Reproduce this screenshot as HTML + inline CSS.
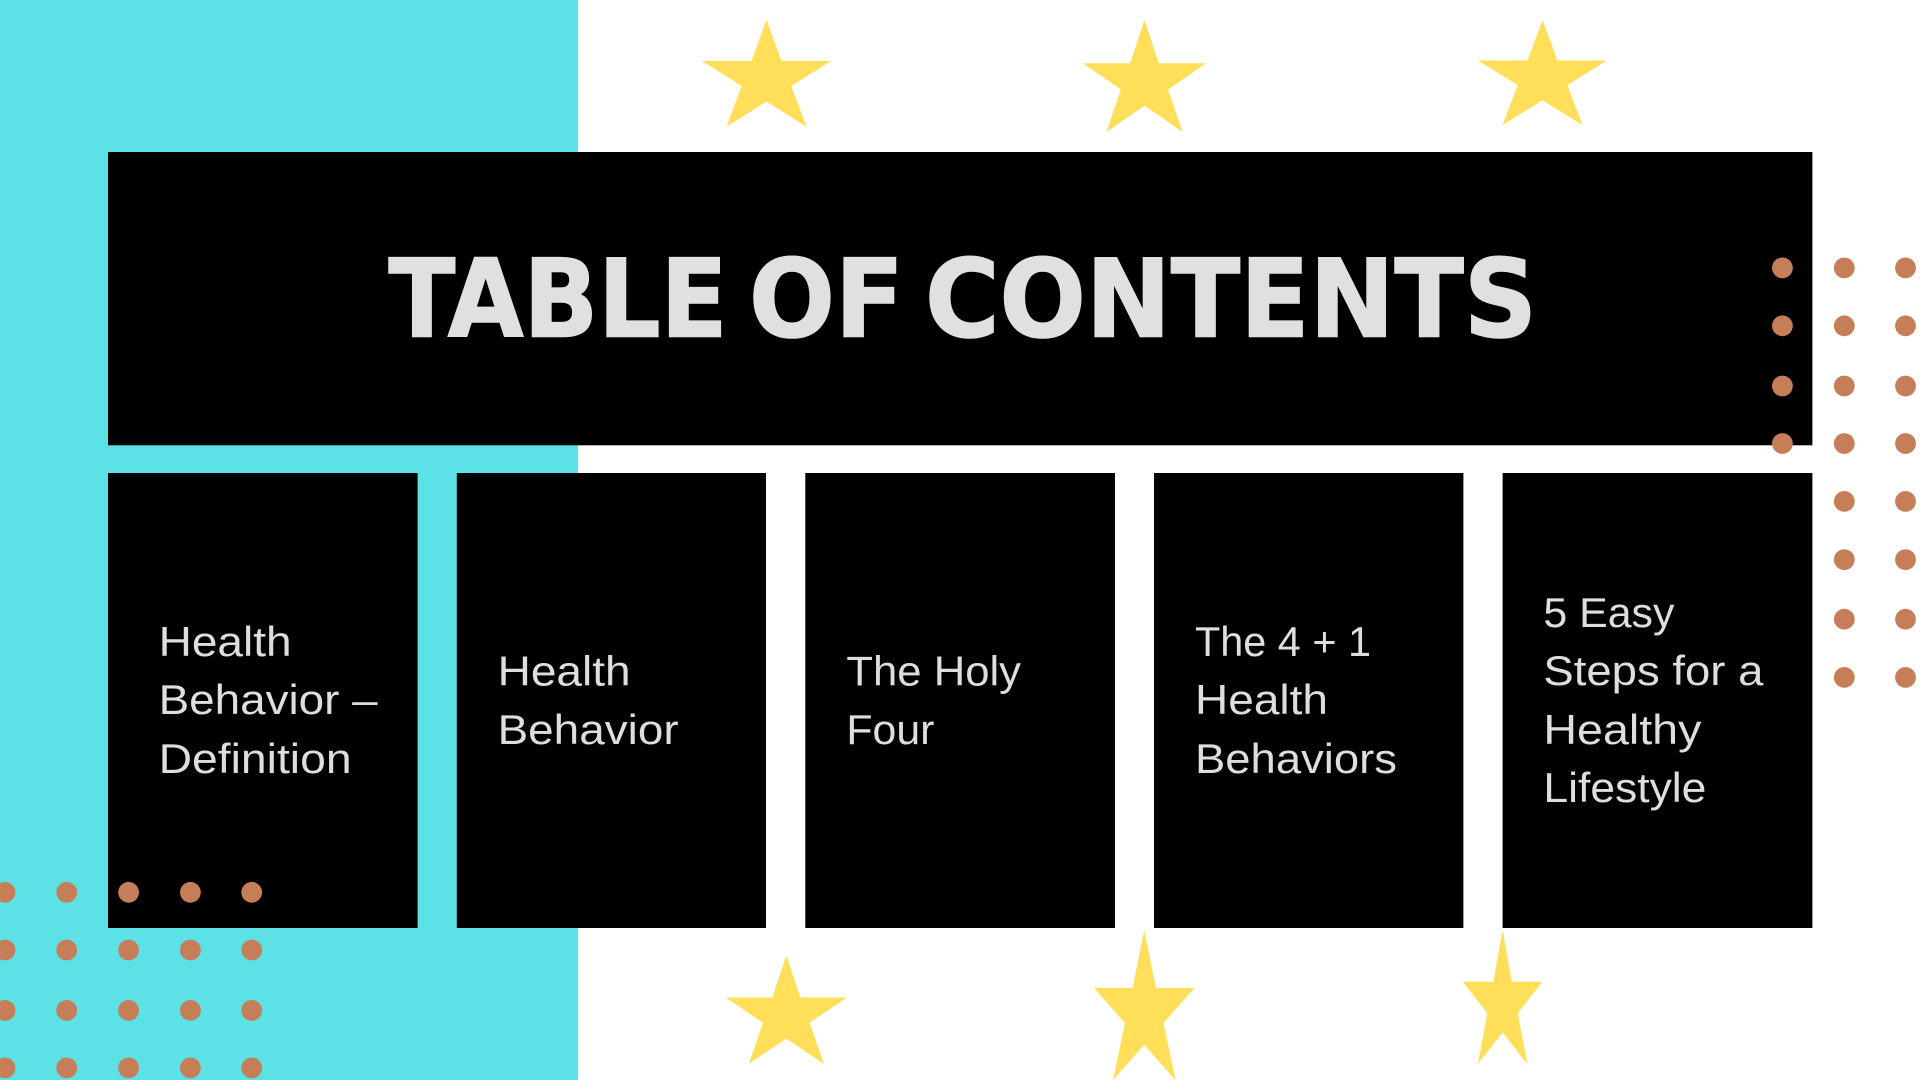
<!DOCTYPE html>
<html lang="en">
<head>
<meta charset="utf-8">
<title>Table of Contents</title>
<style>
html,body{margin:0;padding:0;background:#fff;width:1920px;height:1080px;overflow:hidden}
svg{display:block}
.title{font-family:"DejaVu Sans",sans-serif;font-weight:700;font-size:108px;fill:#e0e0e0;stroke:#e0e0e0;stroke-width:1.6px}
.item{font-family:"Liberation Sans",sans-serif;font-size:42px;fill:#dedede}
.dot{fill:#c67e58}
.star{fill:#ffde59}
</style>
</head>
<body>
<svg width="1920" height="1080" viewBox="0 0 1920 1080" xmlns="http://www.w3.org/2000/svg">
<rect x="0" y="0" width="1920" height="1080" fill="#ffffff"/>
<rect x="0" y="0" width="578" height="1080" fill="#5ce1e6"/>

<g>
<polygon class="star" transform="translate(702 19.6) scale(129 107.1)" points="0.5,0 0.616,0.386 1,0.386 0.692,0.62 0.81,1 0.5,0.765 0.19,1 0.308,0.62 0,0.386 0.384,0.386"/>
<polygon class="star" transform="translate(1083 20) scale(123 112)" points="0.5,0 0.616,0.386 1,0.386 0.692,0.62 0.81,1 0.5,0.765 0.19,1 0.308,0.62 0,0.386 0.384,0.386"/>
<polygon class="star" transform="translate(1478 20) scale(129 105)" points="0.5,0 0.616,0.386 1,0.386 0.692,0.62 0.81,1 0.5,0.765 0.19,1 0.308,0.62 0,0.386 0.384,0.386"/>
</g>

<g>
<polygon class="star" transform="translate(725.7 955.6) scale(121.3 108.4)" points="0.5,0 0.616,0.386 1,0.386 0.692,0.62 0.81,1 0.5,0.765 0.19,1 0.308,0.62 0,0.386 0.384,0.386"/>
<polygon class="star" transform="translate(1094 930) scale(100.5 150)" points="0.5,0 0.616,0.386 1,0.386 0.692,0.62 0.81,1 0.5,0.765 0.19,1 0.308,0.62 0,0.386 0.384,0.386"/>
<polygon class="star" transform="translate(1462.8 930) scale(79.6 134)" points="0.5,0 0.616,0.386 1,0.386 0.692,0.62 0.81,1 0.5,0.765 0.19,1 0.308,0.62 0,0.386 0.384,0.386"/>
</g>

<g>
<rect x="108" y="152" width="1704.4" height="293.3" fill="#000000"/>
<text class="title" x="388.5" y="336.4" textLength="339" lengthAdjust="spacingAndGlyphs">TABLE</text>
<text class="title" x="749" y="336.4" textLength="155" lengthAdjust="spacingAndGlyphs">OF</text>
<text class="title" x="925" y="336.4" textLength="612" lengthAdjust="spacingAndGlyphs">CONTENTS</text>
</g>

<g>
<rect x="108" y="473" width="309.6" height="455" fill="#000000"/>
<text class="item" x="158.6" y="656.2" textLength="133" lengthAdjust="spacingAndGlyphs">Health</text>
<text class="item" x="158.6" y="714" textLength="219" lengthAdjust="spacingAndGlyphs">Behavior –</text>
<text class="item" x="158.6" y="773.2" textLength="193" lengthAdjust="spacingAndGlyphs">Definition</text>
</g>

<g>
<rect x="456.8" y="473" width="309.2" height="455" fill="#000000"/>
<text class="item" x="497.6" y="685.4" textLength="133" lengthAdjust="spacingAndGlyphs">Health</text>
<text class="item" x="497.6" y="743.8" textLength="181" lengthAdjust="spacingAndGlyphs">Behavior</text>
</g>

<g>
<rect x="805.3" y="473" width="309.7" height="455" fill="#000000"/>
<text class="item" x="846.4" y="685.4" textLength="174.6" lengthAdjust="spacingAndGlyphs">The Holy</text>
<text class="item" x="846.4" y="743.8" textLength="88" lengthAdjust="spacingAndGlyphs">Four</text>
</g>

<g>
<rect x="1154" y="473" width="309.4" height="455" fill="#000000"/>
<text class="item" x="1195" y="656.2" textLength="176" lengthAdjust="spacingAndGlyphs">The 4 + 1</text>
<text class="item" x="1195" y="714" textLength="133" lengthAdjust="spacingAndGlyphs">Health</text>
<text class="item" x="1195" y="773.2" textLength="202" lengthAdjust="spacingAndGlyphs">Behaviors</text>
</g>

<g>
<rect x="1502.6" y="473" width="309.8" height="455" fill="#000000"/>
<text class="item" x="1543.4" y="626.8" textLength="131" lengthAdjust="spacingAndGlyphs">5 Easy</text>
<text class="item" x="1543.4" y="685.2" textLength="220" lengthAdjust="spacingAndGlyphs">Steps for a</text>
<text class="item" x="1543.4" y="743.8" textLength="158" lengthAdjust="spacingAndGlyphs">Healthy</text>
<text class="item" x="1543.4" y="801.8" textLength="163" lengthAdjust="spacingAndGlyphs">Lifestyle</text>
</g>

<g>
<circle class="dot" cx="1782.4" cy="267.9" r="10.4"/>
<circle class="dot" cx="1782.4" cy="325.8" r="10.4"/>
<circle class="dot" cx="1782.4" cy="386" r="10.4"/>
<circle class="dot" cx="1782.4" cy="443.5" r="10.4"/>
<circle class="dot" cx="1844.3" cy="267.9" r="10.4"/>
<circle class="dot" cx="1844.3" cy="325.8" r="10.4"/>
<circle class="dot" cx="1844.3" cy="386" r="10.4"/>
<circle class="dot" cx="1844.3" cy="443.5" r="10.4"/>
<circle class="dot" cx="1844.3" cy="501.4" r="10.4"/>
<circle class="dot" cx="1844.3" cy="559.6" r="10.4"/>
<circle class="dot" cx="1844.3" cy="619.2" r="10.4"/>
<circle class="dot" cx="1844.3" cy="677.4" r="10.4"/>
<circle class="dot" cx="1905.5" cy="267.9" r="10.4"/>
<circle class="dot" cx="1905.5" cy="325.8" r="10.4"/>
<circle class="dot" cx="1905.5" cy="386" r="10.4"/>
<circle class="dot" cx="1905.5" cy="443.5" r="10.4"/>
<circle class="dot" cx="1905.5" cy="501.4" r="10.4"/>
<circle class="dot" cx="1905.5" cy="559.6" r="10.4"/>
<circle class="dot" cx="1905.5" cy="619.2" r="10.4"/>
<circle class="dot" cx="1905.5" cy="677.4" r="10.4"/>
</g>

<g>
<circle class="dot" cx="5" cy="892.3" r="10.4"/>
<circle class="dot" cx="5" cy="950" r="10.4"/>
<circle class="dot" cx="5" cy="1010.4" r="10.4"/>
<circle class="dot" cx="5" cy="1067.9" r="10.4"/>
<circle class="dot" cx="66.7" cy="892.3" r="10.4"/>
<circle class="dot" cx="66.7" cy="950" r="10.4"/>
<circle class="dot" cx="66.7" cy="1010.4" r="10.4"/>
<circle class="dot" cx="66.7" cy="1067.9" r="10.4"/>
<circle class="dot" cx="128.6" cy="892.3" r="10.4"/>
<circle class="dot" cx="128.6" cy="950" r="10.4"/>
<circle class="dot" cx="128.6" cy="1010.4" r="10.4"/>
<circle class="dot" cx="128.6" cy="1067.9" r="10.4"/>
<circle class="dot" cx="190.4" cy="892.3" r="10.4"/>
<circle class="dot" cx="190.4" cy="950" r="10.4"/>
<circle class="dot" cx="190.4" cy="1010.4" r="10.4"/>
<circle class="dot" cx="190.4" cy="1067.9" r="10.4"/>
<circle class="dot" cx="251.7" cy="892.3" r="10.4"/>
<circle class="dot" cx="251.7" cy="950" r="10.4"/>
<circle class="dot" cx="251.7" cy="1010.4" r="10.4"/>
<circle class="dot" cx="251.7" cy="1067.9" r="10.4"/>
</g>
</svg>
</body>
</html>
